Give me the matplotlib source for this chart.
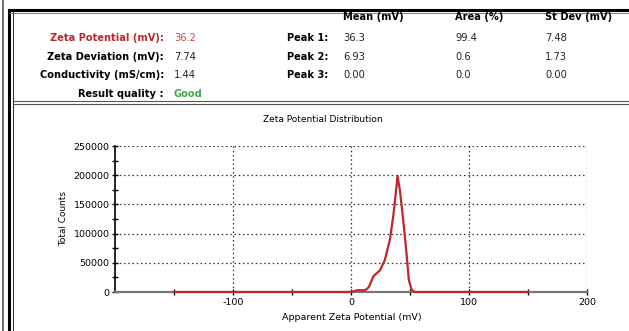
import numpy as np
import matplotlib.pyplot as plt
from matplotlib.lines import Line2D

plt.rcParams['axes.unicode_minus'] = False

# Result summary
summary_labels = ["Zeta Potential (mV):", "Zeta Deviation (mV):", "Conductivity (mS/cm):", "Result quality :"]
summary_values = ["36.2", "7.74", "1.44", "Good"]
peak_labels = ["Peak 1:", "Peak 2:", "Peak 3:"]
peak_headers = ["Mean (mV)", "Area (%)", "St Dev (mV)"]
peak_mean = ["36.3", "6.93", "0.00"]
peak_area = ["99.4", "0.6", "0.0"]
peak_sd = ["7.48", "1.73", "0.00"]

# Distribution curve
zeta_mv = [-150, 0, 5, 12, 15, 19, 24.5, 28.7, 33, 35.8, 38, 39.4, 41.4, 44.2, 47, 49, 51.3, 54, 150]
counts = [0, 0, 3000, 3000, 8000, 27000, 37000, 55000, 90000, 130000, 170000, 199000,
          175000, 124000, 67000, 21000, 4000, 0, 0]

W, H = 629, 331
fig = plt.figure(figsize=(W / 100, H / 100), dpi=100)
fig.patch.set_facecolor("white")


def px(x, y):
    return x / W, 1 - y / H


def fig_text(x, y, s, **kw):
    fx, fy = px(x, y)
    fig.text(fx, fy, s, va="center", **kw)


# frame lines
def hline(y, x0, x1, lw, c):
    fig.add_artist(Line2D([x0 / W, x1 / W], [1 - y / H, 1 - y / H], lw=lw, color=c))


def vline(x, y0, y1, lw, c):
    fig.add_artist(Line2D([x / W, x / W], [1 - y0 / H, 1 - y1 / H], lw=lw, color=c))


vline(3, 0, H, 1.2, "#555555")
vline(9, 10, H, 2.2, "black")
vline(13, 10, H, 0.8, "#333333")
hline(10, 9, W, 2.2, "black")
hline(13, 9, W, 0.6, "#666666")
hline(101, 13, W, 0.8, "#555555")
hline(104, 13, W, 0.8, "#555555")

red = "#c0262b"
fs = 7.1
for i, (lab, val) in enumerate(zip(summary_labels, summary_values)):
    y = 38 + i * 18.7
    lc = red if i == 0 else "black"
    vc = {0: "#c8454a", 3: "#3fa64a"}.get(i, "#222222")
    fig_text(164, y, lab, ha="right", fontsize=fs, fontweight="bold", color=lc)
    fig_text(174, y, val, ha="left", fontsize=fs, color=vc,
             fontweight="bold" if i == 3 else "normal")

cols = [343, 455, 545]
for x, h in zip(cols, peak_headers):
    fig_text(x, 17, h, ha="left", fontsize=fs, fontweight="bold")
for i, lab in enumerate(peak_labels):
    y = 38 + i * 18.7
    fig_text(287, y, lab, ha="left", fontsize=fs, fontweight="bold")
    for x, v in zip(cols, [peak_mean[i], peak_area[i], peak_sd[i]]):
        fig_text(x, y, v, ha="left", fontsize=fs, color="#222222")

# chart
ax = fig.add_axes([115 / W, 1 - 292 / H, 472 / W, 146 / H])
ax.plot(zeta_mv, counts, color=red, lw=1.6, zorder=3, clip_on=False)
ax.set_xlim(-200, 200)
ax.set_ylim(0, 250000)
ax.set_xticks([-100, 0, 100, 200])
ax.set_xticks([-150, -50, 50, 150], minor=True)
ax.set_yticks(np.arange(0, 250001, 50000))
ax.set_yticks(np.arange(25000, 250000, 50000), minor=True)
ax.grid(True, which="major", linestyle=(0, (1.2, 2.2)), color="#333333", lw=0.9)
for s in ["top", "right"]:
    ax.spines[s].set_visible(False)
ax.spines["left"].set_color("black")
ax.spines["left"].set_linewidth(1.2)
ax.spines["bottom"].set_color("#777777")
ax.spines["bottom"].set_linewidth(1.6)
ax.tick_params(which="both", direction="inout", length=4, width=1, colors="black",
               labelsize=6.8, pad=2)
ax.set_facecolor("white")
ax.set_axisbelow(True)

fig_text(323, 120, "Zeta Potential Distribution", ha="center", fontsize=6.5)
fig_text(352, 318, "Apparent Zeta Potential (mV)", ha="center", fontsize=6.8)
fx, fy = px(64, 218)
fig.text(fx, fy, "Total Counts", rotation=90, ha="center", va="center", fontsize=6.4)

fig.savefig("out.png", dpi=100)
